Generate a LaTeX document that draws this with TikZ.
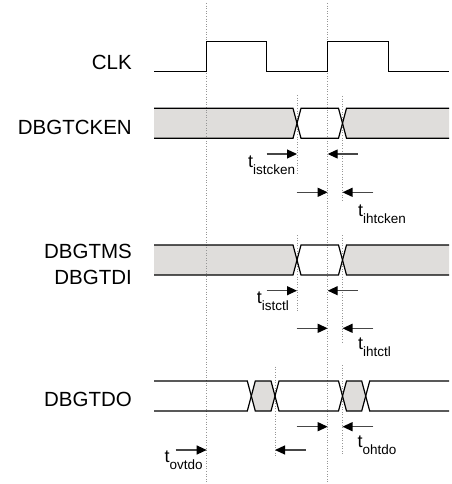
\documentclass[tikz,border=0pt]{standalone}
\usepackage{fontspec}
\setmainfont{Liberation Sans}
\usetikzlibrary{arrows.meta}
\definecolor{busgray}{RGB}{223,221,219}
\definecolor{guidegray}{RGB}{150,150,150}
\definecolor{arrgray}{RGB}{70,70,70}
\newcommand{\tlab}[1]{{\fontsize{18}{18}\selectfont t}\raisebox{-7pt}{\fontsize{13.5}{14}\selectfont #1}}

\begin{document}
\begin{tikzpicture}[x=1pt,y=-1pt,
  sig/.style={line width=1.2pt},
  guide/.style={draw=guidegray,line width=0.8pt,dash pattern=on 1pt off 1.6pt},
  tim/.style={draw=arrgray,line width=1.2pt,-{Triangle[length=10pt,width=9pt,color=black]}},
  signame/.style={anchor=base east,inner sep=0pt,font=\fontsize{20.5}{24}\selectfont},
  tlabel/.style={anchor=base west,inner sep=0pt}]
  % page
  \useasboundingbox(0,0) rectangle (451,484);
  % bus fills
  \foreach \ya/\yb in {108.3/138.3, 245/275}{
    \fill[busgray](154,\ya)--(293,\ya)--(297,\ya/2+\yb/2)--(293,\yb)--(154,\yb)--cycle;
    \fill[busgray](449,\ya)--(346.5,\ya)--(342.5,\ya/2+\yb/2)--(346.5,\yb)--(449,\yb)--cycle;}
  \foreach \xa/\xb in {251.3/275, 342.5/365.7}{
    \fill[busgray](\xa,396)--(\xa+4,381)--(\xb-4,381)--(\xb,396)--(\xb-4,411)--(\xa+4,411)--cycle;}
  % dotted guides
  \foreach \gx/\ga/\gb in {206.7/3/484, 327.7/3/484, 297/95/175, 342.5/96/201.7,
      297/235/311.7, 342.5/235/341.7, 275/366.7/456.7, 342.5/365/455}
    \draw[guide](\gx,\ga)--(\gx,\gb);
  % clock
  \draw[sig](154,71.7)--(206.7,71.7)--(206.7,41.7)--(266.7,41.7)--(266.7,71.7)
    --(327.7,71.7)--(327.7,41.7)--(388.3,41.7)--(388.3,71.7)--(449,71.7);
  % input buses
  \foreach \ya/\yb in {108.3/138.3, 245/275}{
    \draw[sig](154,\ya)--(293,\ya)--(301,\yb)--(338.5,\yb)--(346.5,\ya)--(449,\ya);
    \draw[sig](154,\yb)--(293,\yb)--(301,\ya)--(338.5,\ya)--(346.5,\yb)--(449,\yb);}
  % output bus
  \draw[sig](154,381)--(247.3,381)--(255.3,411)--(271,411)--(279,381)--(338.5,381)
    --(346.5,411)--(361.7,411)--(369.7,381)--(449,381);
  \draw[sig](154,411)--(247.3,411)--(255.3,381)--(271,381)--(279,411)--(338.5,411)
    --(346.5,381)--(361.7,381)--(369.7,411)--(449,411);
  % timing arrows
  \foreach \ax/\bx/\ay in {266.7/297/154, 357.7/327.7/154, 296.7/327.7/192.3, 373.3/342.5/192.3,
      266.7/297/290.7, 357.7/327.7/290.7, 296.7/327.7/328.3, 373.3/342.5/328.3,
      296.7/327.7/426.7, 373.3/342.5/426.7, 175.7/206.7/450, 305.7/275/450}
    \draw[tim](\ax,\ay)--(\bx,\ay);
  % signal names
  \node[signame](clk) at (132,70){CLK};
  \node[signame](tcken) at (132,134){DBGTCKEN};
  \node[signame](tms) at (132,258.3){DBGTMS};
  \node[signame](tdi) at (132,284){DBGTDI};
  \node[signame](tdo) at (132,406){DBGTDO};
  % timing names
  \node[tlabel](istcken) at (248,167){\tlab{istcken}};
  \node[tlabel](ihtcken) at (358,216){\tlab{ihtcken}};
  \node[tlabel](istctl) at (256.7,303){\tlab{istctl}};
  \node[tlabel](ihtctl) at (358,349){\tlab{ihtctl}};
  \node[tlabel](ohtdo) at (357.5,447){\tlab{ohtdo}};
  \node[tlabel](ovtdo) at (164.5,462){\tlab{ovtdo}};
\end{tikzpicture}
\end{document}
